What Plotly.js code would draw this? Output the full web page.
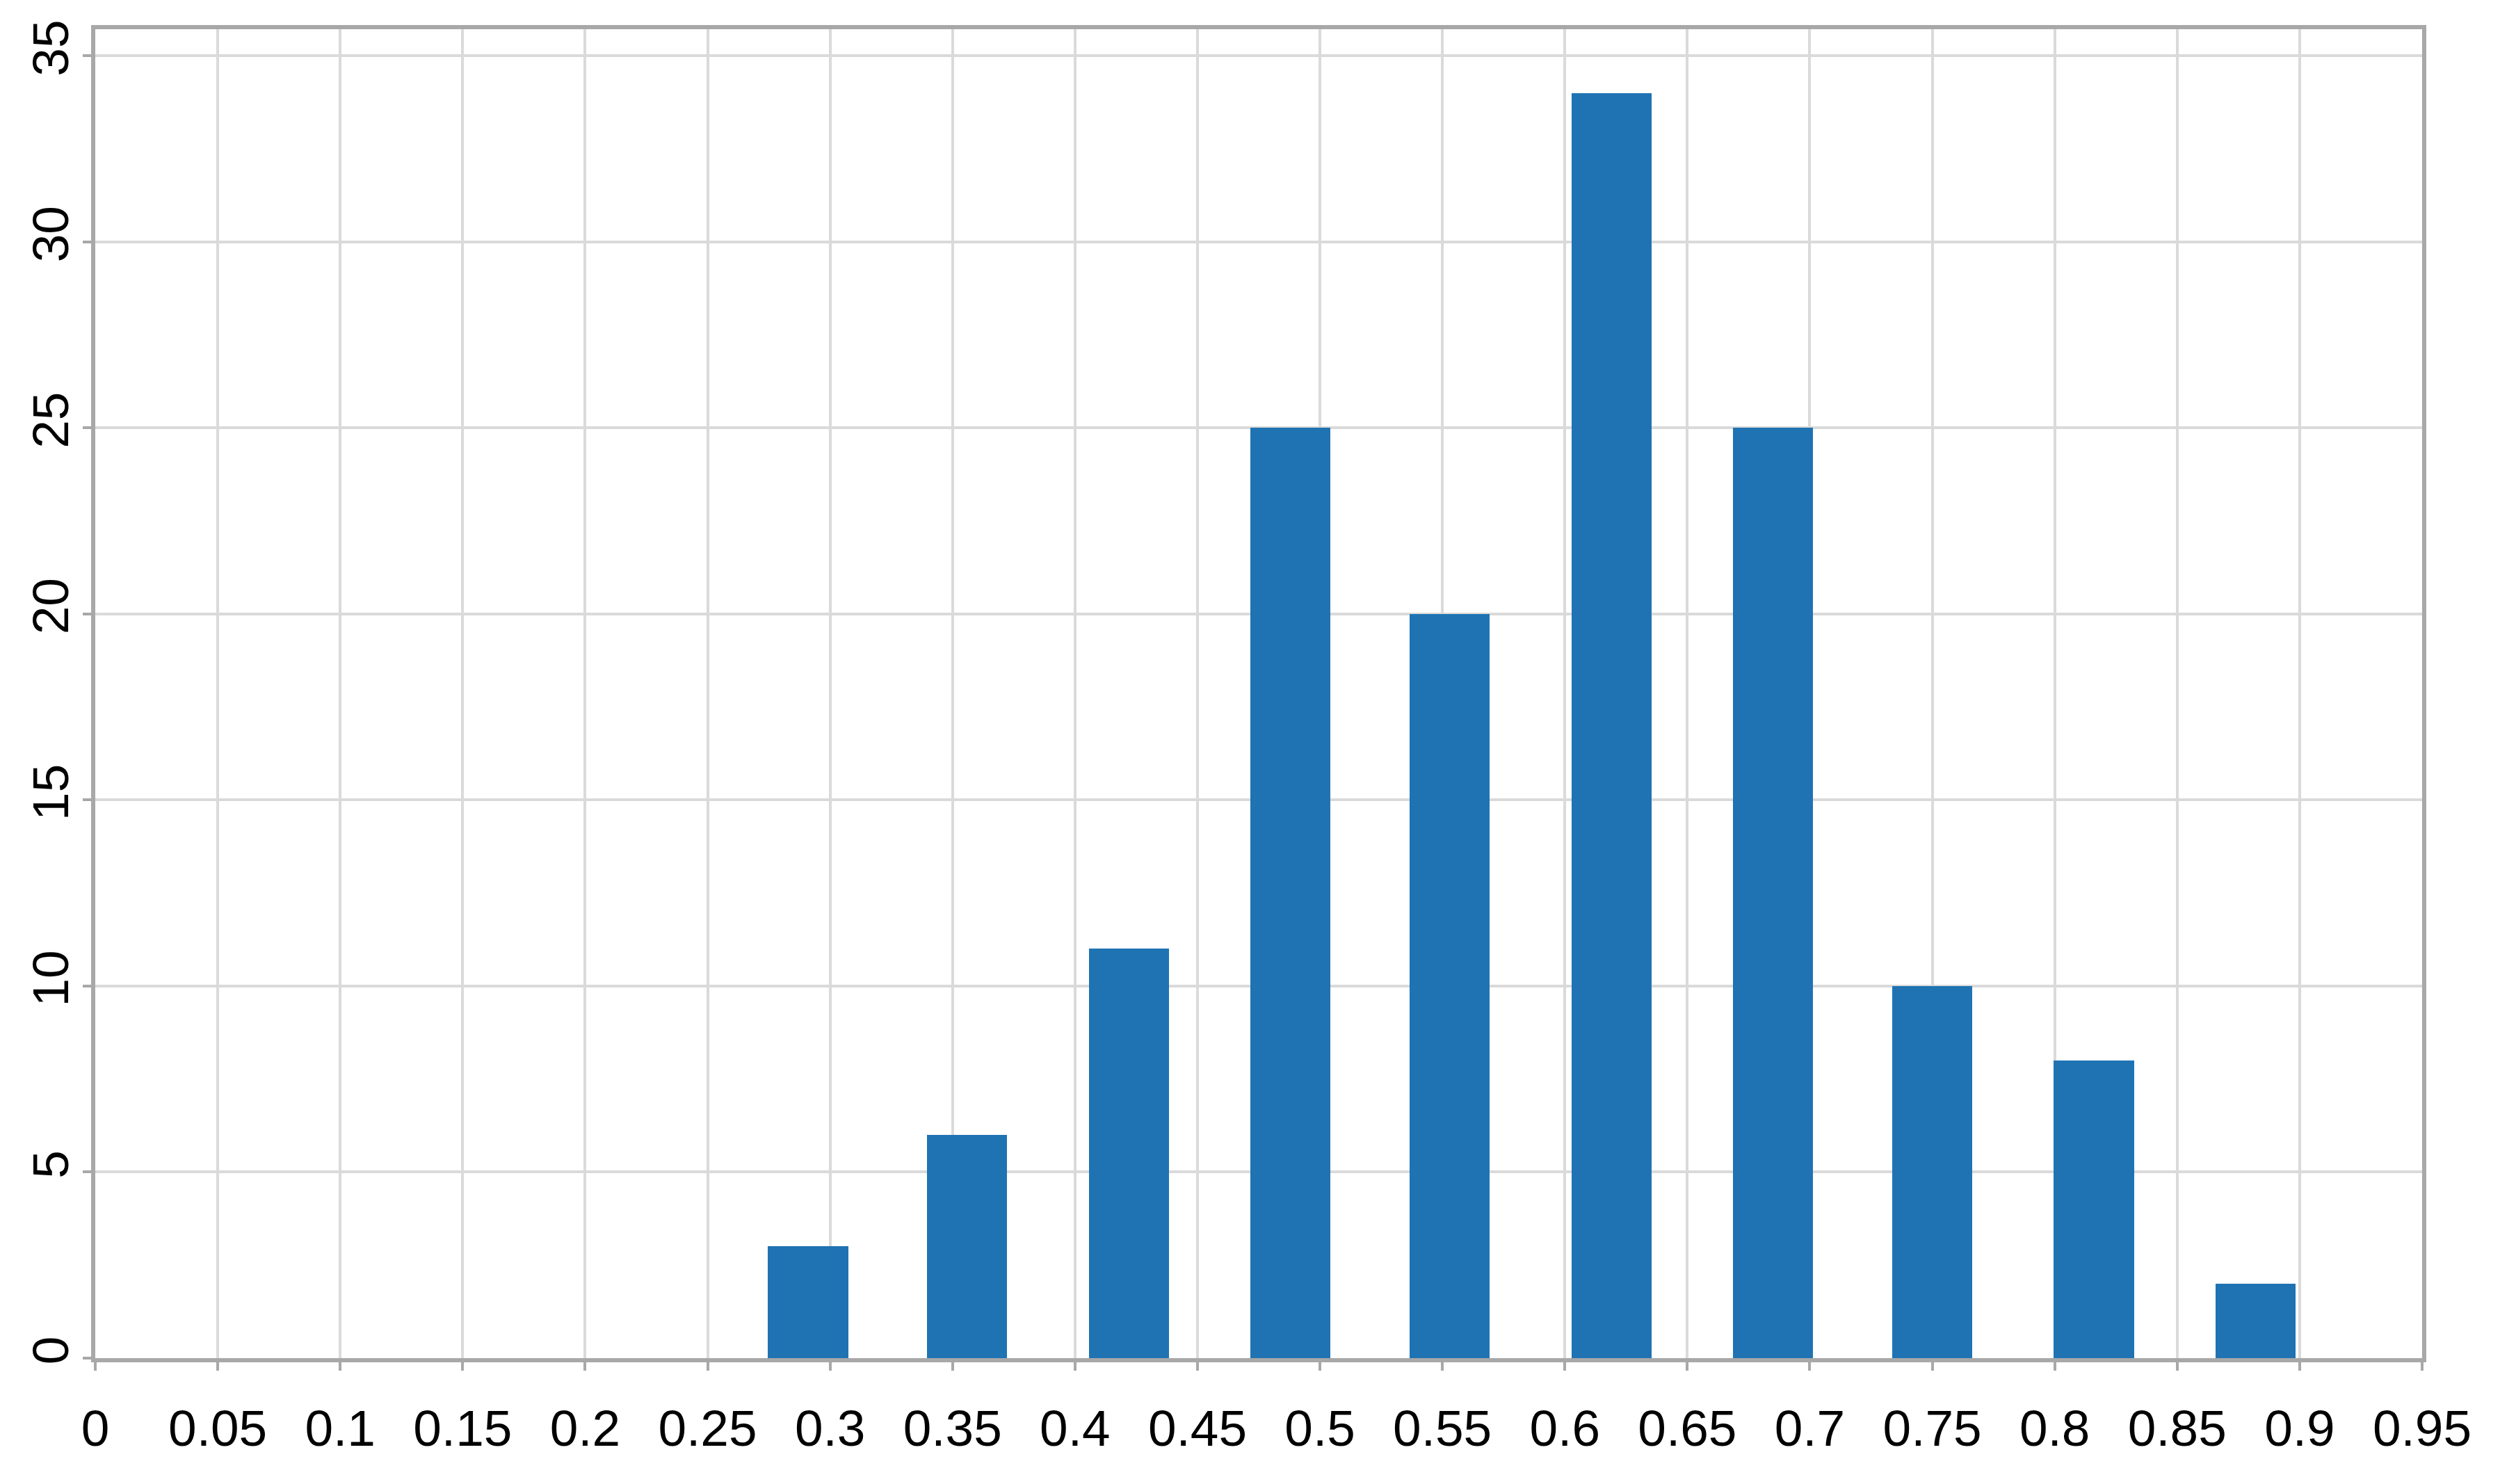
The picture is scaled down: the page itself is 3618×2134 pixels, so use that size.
<!DOCTYPE html>
<html>
<head>
<meta charset="utf-8">
<script src="https://cdn.plot.ly/plotly-3.0.1.min.js"></script>
<style>
html,body{margin:0;padding:0;background:#fff;}
#chart{width:3618px;height:2134px;}
</style>
</head>
<body>
<div id="chart"></div>
<script>
// Bin centres (x) and counts
const binCenters = [0.291, 0.356, 0.422, 0.488, 0.553, 0.619, 0.685, 0.750, 0.816, 0.882];
const counts     = [3, 6, 11, 25, 20, 34, 25, 10, 8, 2];
const xTickVals  = [0, 0.05, 0.1, 0.15, 0.2, 0.25, 0.3, 0.35, 0.4, 0.45, 0.5, 0.55, 0.6, 0.65, 0.7, 0.75, 0.8, 0.85, 0.9, 0.95];
const xTickText  = ['0', '0.05', '0.1', '0.15', '0.2', '0.25', '0.3', '0.35', '0.4', '0.45', '0.5', '0.55', '0.6', '0.65', '0.7', '0.75', '0.8', '0.85', '0.9', '0.95'];
const yTickVals  = [0, 5, 10, 15, 20, 25, 30, 35];

const trace = {
  type: 'bar',
  x: binCenters,
  y: counts,
  width: 0.0327,
  marker: {color: '#1f73b3', line: {width: 0}},
  hoverinfo: 'x+y'
};

const fontFamily = 'Liberation Sans, Arial, sans-serif';

const layout = {
  width: 3618,
  height: 2134,
  paper_bgcolor: '#ffffff',
  plot_bgcolor: '#ffffff',
  margin: {l: 137, r: 135, t: 42, b: 181, pad: 0},
  showlegend: false,
  bargap: 0,
  font: {family: fontFamily, size: 73, color: '#000000'},
  xaxis: {
    range: [0, 0.95],
    tickmode: 'array',
    tickvals: xTickVals,
    ticktext: xTickText,
    showgrid: true,
    gridcolor: '#dadada',
    gridwidth: 4,
    zeroline: false,
    showline: true,
    linecolor: '#a8a8a8',
    linewidth: 6,
    mirror: true,
    ticks: 'outside',
    ticklen: 12,
    tickwidth: 4,
    tickcolor: '#a8a8a8',
    ticklabelstandoff: 20,
    tickfont: {family: fontFamily, size: 73, color: '#000000'}
  },
  yaxis: {
    range: [0, 35.71],
    tickmode: 'array',
    tickvals: yTickVals,
    showgrid: true,
    gridcolor: '#dadada',
    gridwidth: 4,
    zeroline: false,
    showline: true,
    linecolor: '#a8a8a8',
    linewidth: 6,
    mirror: true,
    ticks: 'outside',
    ticklen: 12,
    tickwidth: 4,
    tickcolor: '#a8a8a8',
    tickangle: -90,
    ticklabelstandoff: -8,
    tickfont: {family: fontFamily, size: 73, color: '#000000'}
  }
};

Plotly.newPlot('chart', [trace], layout, {staticPlot: true, displayModeBar: false});
</script>
</body>
</html>
